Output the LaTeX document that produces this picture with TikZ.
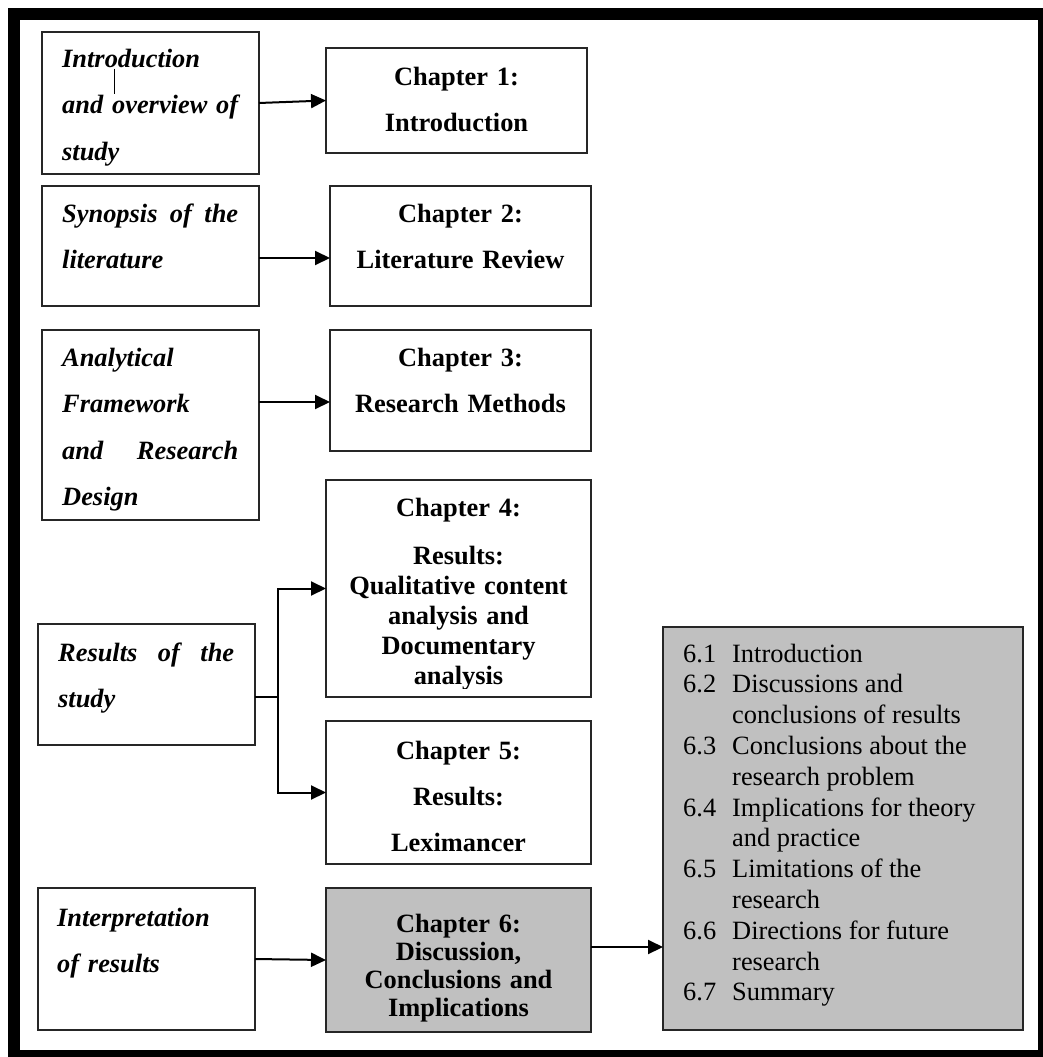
\documentclass[tikz,border=0pt]{standalone}
\usepackage{fontspec}
\setmainfont{Liberation Serif}
\usetikzlibrary{arrows.meta}
\definecolor{secgray}{RGB}{192,192,192}
\newcommand\jl[1]{\leavevmode\hbox to 176pt{#1}}
\begin{document}
\begin{tikzpicture}[x=1pt,y=-1pt,
  box/.style={draw=black!85, line width=1.3pt, inner sep=0pt, outer sep=0pt},
  graybox/.style={box, fill=secgray},
  arr/.style={line width=2pt, -{Triangle[length=15pt,width=14pt]}},
  lefttxt/.style={anchor=base west, inner sep=0pt, text width=176pt, align=left,
    font=\fontsize{26.4}{46.5}\selectfont\bfseries\itshape},
  chtxt/.style={anchor=base, inner sep=0pt, text width=255pt, align=center,
    font=\fontsize{26.4}{46}\selectfont\bfseries},
]
\useasboundingbox (0,0) rectangle (1043,1057);
\clip (0,0) rectangle (1043,1057);
% outer frame
\draw[line width=12.5pt] (14,14) rectangle (1044.5,1056);

% left boxes
\node[box, minimum width=217pt, minimum height=142pt] (intro) at (150.5,103) {};
\node[box, minimum width=217pt, minimum height=120pt] (syn) at (150.5,246) {};
\node[box, minimum width=217pt, minimum height=190pt] (ana) at (150.5,425) {};
\node[box, minimum width=217pt, minimum height=121pt] (res) at (146.5,684.5) {};
\node[box, minimum width=217pt, minimum height=142pt] (interp) at (146.5,959) {};

% chapter boxes
\node[box, minimum width=261pt, minimum height=105pt] (ch1) at (456.5,100.5) {};
\node[box, minimum width=261pt, minimum height=120pt] (ch2) at (460.5,246) {};
\node[box, minimum width=261pt, minimum height=121pt] (ch3) at (460.5,390.5) {};
\node[box, minimum width=265pt, minimum height=217pt] (ch4) at (458.5,588.5) {};
\node[box, minimum width=265pt, minimum height=143pt] (ch5) at (458.5,792.5) {};
\node[graybox, minimum width=265pt, minimum height=144pt] (ch6) at (458.5,960) {};
\node[graybox, minimum width=360pt, minimum height=403pt] (sec) at (843,828.5) {};

% left texts
\node[lefttxt] (introt) at (62,67) {Introduction\\\jl{and\hfill overview\hfill of}\\study};
\draw[line width=1pt] (114,69) -- (114,94);
\node[lefttxt] (synt) at (62,222) {\jl{Synopsis\hfill of\hfill the}\\literature};
\node[lefttxt] (anat) at (62,366) {Analytical\\Framework\\\jl{and\hfill Research}\\Design};
\node[lefttxt] (rest) at (58,661) {\jl{Results\hfill of\hfill the}\\study};
\node[lefttxt] (interpt) at (57,926) {Interpretation\\of results};

% chapter texts
\node[chtxt] (ch1t) at (456.5,85) {Chapter 1:\\Introduction};
\node[chtxt] (ch2t) at (460.5,222) {Chapter 2:\\Literature Review};
\node[chtxt] (ch3t) at (460.5,366) {Chapter 3:\\Research Methods};
\begin{scope}
\clip (327,481) rectangle (590,688);
\node[chtxt, font=\fontsize{26.4}{30}\selectfont\bfseries] (ch4t) at (458.5,516)
  {Chapter 4:\\[18pt]Results:\\Qualitative content\\analysis and\\Documentary\\analysis};
\end{scope}
\node[chtxt] (ch5t) at (458.5,759) {Chapter 5:\\Results:\\Leximancer};
\node[chtxt, font=\fontsize{26.4}{28}\selectfont\bfseries] (ch6t) at (458.5,932)
  {Chapter 6:\\Discussion,\\Conclusions and\\Implications};

% section list
\node[anchor=base west, inner sep=0pt, font=\fontsize{26.4}{30.8}\selectfont] (sect) at (683,662)
  {\begin{tabular}[t]{@{}l@{\hspace{16pt}}l@{}}
   6.1 & Introduction\\
   6.2 & Discussions and\\
       & conclusions of results\\
   6.3 & Conclusions about the\\
       & research problem\\
   6.4 & Implications for theory\\
       & and practice\\
   6.5 & Limitations of the\\
       & research\\
   6.6 & Directions for future\\
       & research\\
   6.7 & Summary
   \end{tabular}};

% connectors
\draw[arr] (intro.east) -- (ch1.west);
\draw[arr] (syn.east |- 0,258) -- (ch2.west |- 0,258);
\draw[arr] (ana.east |- 0,402) -- (ch3.west |- 0,402);
\coordinate (jtop) at (278,588.5);
\coordinate (jbot) at (278,792.5);
\coordinate (jmid) at (278,697);
\draw[line width=1.2pt] (res.east |- jmid) -- (jmid);
\draw[line width=2pt, {Triangle[length=15pt,width=14pt]}-{Triangle[length=15pt,width=14pt]}]
  (ch4.west |- jtop) -- (jtop) -- (jbot) -- (ch5.west |- jbot);
\draw[arr] (interp.east) -- (ch6.west);
\draw[arr] (ch6.east |- 0,947) -- (sec.west |- 0,947);
\end{tikzpicture}
\end{document}
